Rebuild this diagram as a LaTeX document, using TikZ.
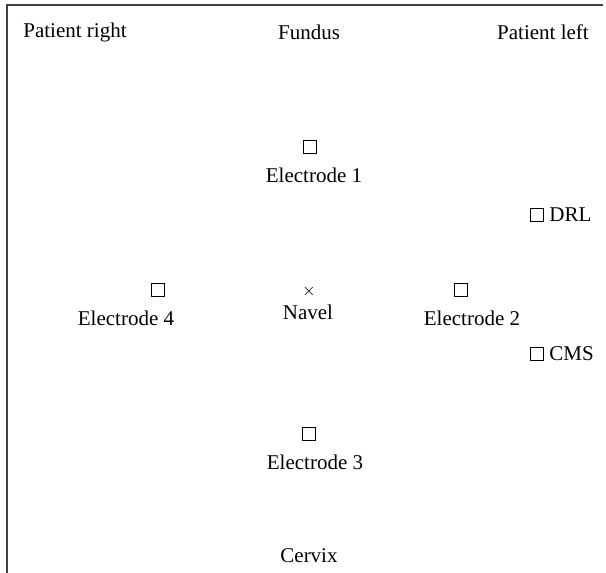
\documentclass[tikz,border=0pt]{standalone}
\usepackage{fontspec}
\setmainfont{Liberation Serif}
\usetikzlibrary{positioning}

\tikzset{
  pad/.style={draw, rectangle, minimum size=6.5pt, inner sep=0pt, line width=0.5pt},
  lab/.style={font=\fontsize{10.5}{12}\selectfont, inner sep=1pt}
}

\begin{document}
\begin{tikzpicture}[x=0.5pt, y=-0.5pt]
\useasboundingbox (0,0) rectangle (606,573);
%frame
\draw[line width=0.8pt, black!75] (7,573)--(7,5)--(603,5);

%orientation
\node[lab] (pr) at (75,32) {Patient right};
\node[lab] (fundus) at (309,32) {Fundus};
\node[lab] (pl) at (543,32) {Patient left};
\node[lab] (cervix) at (309,556) {Cervix};

%electrodes
\node[pad] (e1) at (310,147) {};
\node[lab, below=6pt of e1, xshift=2pt] (e1t) {Electrode 1};
\node[pad] (e4) at (158,290) {};
\node[lab, below=6pt of e4, xshift=-16pt] (e4t) {Electrode 4};
\node[pad] (e2) at (461,290) {};
\node[lab, below=6pt of e2, xshift=5.5pt] (e2t) {Electrode 2};
\node[pad] (e3) at (309,434) {};
\node[lab, below=6pt of e3, xshift=3pt] (e3t) {Electrode 3};

%navel
\node[inner sep=0pt, font=\fontsize{8}{9}\selectfont] (navel) at (309,291) {$\times$};
\node[lab] (navelt) at (308,312) {Navel};

%reference pads
\node[pad] (drl) at (537,215) {};
\node[lab, right=1.5pt of drl] (drlt) {DRL};
\node[pad] (cms) at (537,354) {};
\node[lab, right=1.5pt of cms] (cmst) {CMS};
\end{tikzpicture}
\end{document}
